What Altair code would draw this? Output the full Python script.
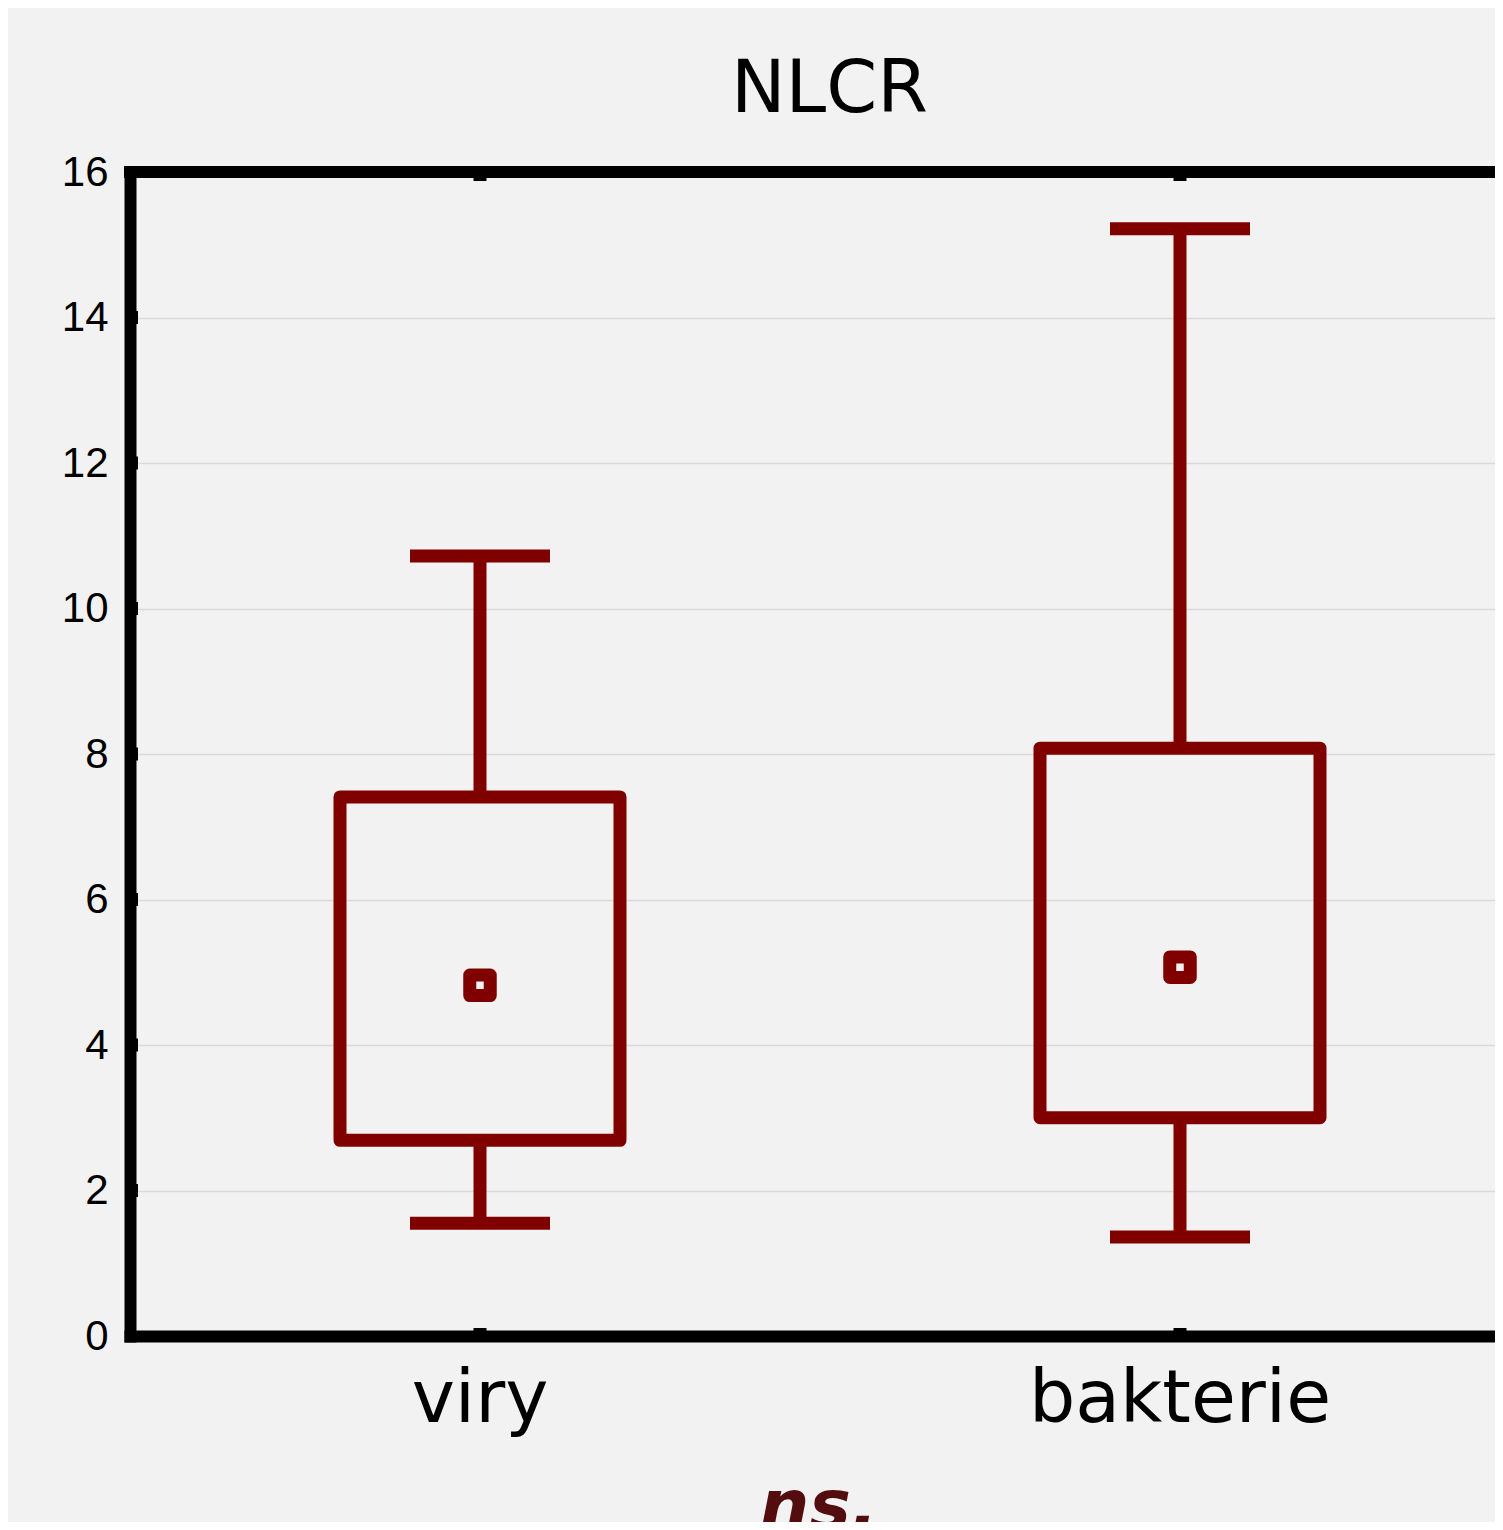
import altair as alt
import pandas as pd

# ---- data ----
groups = ["viry", "bakterie"]
whisker_lo = [1.55, 1.36]
q1 = [2.69, 3.00]
mean = [4.82, 5.07]
q3 = [7.41, 8.08]
whisker_hi = [10.72, 15.22]
y_ticks = [0, 2, 4, 6, 8, 10, 12, 14, 16]
inner_ticks = [2, 4, 6, 8, 10, 12, 14]

RED = "#800000"
BG = "#f2f2f2"
W, H = 1365, 1164
XR = 1400  # full x range (plot continues past the page edge)
LW = 13

df = pd.DataFrame({
    "group": groups,
    "lo": whisker_lo,
    "q1": q1,
    "mean": mean,
    "q3": q3,
    "hi": whisker_hi,
})
tick_df = pd.DataFrame({"t": inner_ticks})

x_enc = alt.X(
    "group:N",
    sort=groups,
    scale=alt.Scale(range=[0, XR], paddingInner=0, paddingOuter=0),
    axis=alt.Axis(
        orient="bottom",
        labelFont="DejaVu Sans",
        labelFontSize=73,
        labelColor="black",
        labelAngle=0,
        labelLimit=0,
        labelBaseline="alphabetic",
        labelPadding=85,
        ticks=False,
        tickSize=0,
        domainWidth=12,
        domainColor="black",
        domainCap="square",
        grid=False,
        title="ns.",
        titleFont="DejaVu Sans",
        titleFontSize=70,
        titleFontStyle="italic",
        titleFontWeight="bold",
        titleColor="#540d0f",
        titleBaseline="alphabetic",
        titleAlign="center",
        titleX=688,
        titleY=192,
    ),
)

y_scale = alt.Scale(domain=[0, 16], nice=False, zero=True)
y_axis = alt.Axis(
    values=y_ticks,
    format="d",
    labelFont="Liberation Sans",
    labelFontSize=42,
    labelColor="black",
    labelPadding=22,
    ticks=False,
    tickSize=0,
    domainWidth=12,
    domainColor="black",
    domainCap="square",
    grid=True,
    gridColor="#dadada",
    gridWidth=1.5,
    title="",
)

base = alt.Chart(df)

stem_low = base.mark_rule(color=RED, strokeWidth=LW, opacity=1).encode(
    x=x_enc,
    y=alt.Y("lo:Q", scale=y_scale, axis=y_axis),
    y2="q1:Q",
)
stem_high = base.mark_rule(color=RED, strokeWidth=LW, opacity=1).encode(
    x=x_enc, y=alt.Y("q3:Q", scale=y_scale), y2="hi:Q"
)
box = base.mark_bar(
    size=280, stroke=RED, strokeWidth=LW, strokeJoin="round",
    fill=BG, fillOpacity=0, opacity=1,
).encode(x=x_enc, y=alt.Y("q1:Q", scale=y_scale), y2="q3:Q")
cap_low = base.mark_tick(
    color=RED, orient="horizontal", size=140, thickness=LW, opacity=1
).encode(x=x_enc, y=alt.Y("lo:Q", scale=y_scale))
cap_high = base.mark_tick(
    color=RED, orient="horizontal", size=140, thickness=LW, opacity=1
).encode(x=x_enc, y=alt.Y("hi:Q", scale=y_scale))
mean_pt = base.mark_point(
    shape="square", size=420, filled=False, color=RED, strokeWidth=LW,
    strokeJoin="round", opacity=1,
).encode(x=x_enc, y=alt.Y("mean:Q", scale=y_scale))

# frame: top border and small inward tick nubs
top_border = base.mark_rule(color="black", strokeWidth=12, strokeCap="square").encode(
    y=alt.datum(16), x=alt.value(0), x2=alt.value(XR)
)
nub_bottom = base.mark_tick(
    color="black", orient="vertical", size=12, thickness=LW, opacity=1, yOffset=-2
).encode(x=x_enc, y=alt.datum(0))
nub_top = base.mark_tick(
    color="black", orient="vertical", size=12, thickness=LW, opacity=1, yOffset=3
).encode(x=x_enc, y=alt.datum(16))
nub_left = alt.Chart(tick_df).mark_tick(
    color="black", orient="horizontal", size=12, thickness=LW, opacity=1
).encode(y=alt.Y("t:Q", scale=y_scale), x=alt.value(2))

chart = (
    alt.layer(
        stem_low, stem_high, box, cap_low, cap_high, mean_pt,
        top_border, nub_bottom, nub_top, nub_left,
    )
    .properties(
        width=W,
        height=H,
        title=alt.TitleParams(
            "NLCR",
            font="DejaVu Sans",
            fontSize=73,
            fontWeight="normal",
            color="black",
            anchor="middle",
            baseline="alphabetic",
            offset=60,
            dy=94,
            dx=17,
        ),
        autosize=alt.AutoSizeParams(type="none"),
        padding={"left": 122, "top": 164, "right": 0, "bottom": 186},
    )
    .configure(background=BG)
    .configure_view(strokeWidth=0)
)

chart.save("out.html", embed_options={"renderer": "svg", "actions": False})
